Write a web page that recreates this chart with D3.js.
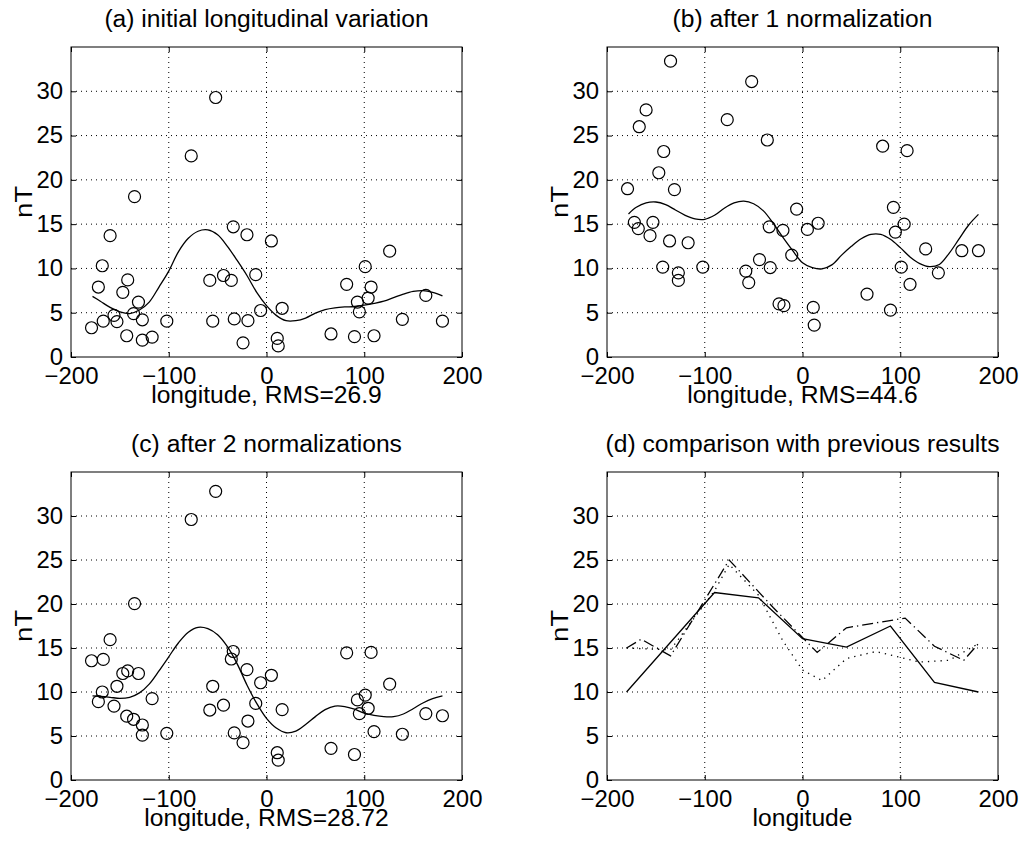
<!DOCTYPE html>
<html>
<head>
<meta charset="utf-8">
<script src="https://cdnjs.cloudflare.com/ajax/libs/d3/7.8.5/d3.min.js"></script>
<style>
  body { margin: 0; background: #fff; }
  svg { font-family: "Liberation Sans", Arial, Helvetica, sans-serif; }
</style>
</head>
<body>
<div id="chart"></div>
<script>
var svgWidth = 1019;
var svgHeight = 843;

// station longitudes, shared by panels (a)-(c)
var stationLon = [-179, -172, -168, -167, -160, -156, -153, -147, -143, -142, -136, -135,
  -131, -127, -127, -117, -102, -77, -58, -55, -52, -44, -36, -34, -33, -24, -20, -19,
  -11, -6, 5, 11, 12, 16, 66, 82, 90, 93, 95, 101, 104, 107, 110, 126, 139, 163, 180];

// station values (nT) for each panel
var valuesA = [3.3, 7.9, 10.3, 4.05, 13.7, 4.7, 4.0, 7.3, 2.4, 8.7, 4.9, 18.1, 6.2, 4.2,
  1.9, 2.25, 4.05, 22.7, 8.65, 4.05, 29.3, 9.2, 8.65, 14.7, 4.3, 1.6, 13.8, 4.1, 9.3, 5.25,
  13.1, 2.1, 1.25, 5.5, 2.6, 8.2, 2.3, 6.2, 5.1, 10.2, 6.65, 7.9, 2.4, 11.95, 4.25, 6.95, 4.05];
var valuesB = [19.0, 15.2, 14.5, 26.0, 27.9, 13.7, 15.2, 20.8, 10.15, 23.2, 13.1, 33.4, 18.9,
  9.5, 8.65, 12.9, 10.15, 26.8, 9.7, 8.4, 31.1, 11.0, 24.5, 14.7, 10.1, 6.0, 14.3, 5.8, 11.5,
  16.7, 14.4, 5.6, 3.6, 15.1, 7.1, 23.8, 5.3, 16.9, 14.1, 10.15, 15.0, 23.3, 8.2, 12.2, 9.5,
  12.0, 12.0];
var valuesC = [13.55, 8.9, 10.0, 13.7, 15.95, 8.4, 10.65, 12.1, 7.25, 12.4, 6.9, 20.05, 12.1,
  6.25, 5.1, 9.25, 5.3, 29.6, 7.95, 10.65, 32.8, 8.5, 13.75, 14.6, 5.35, 4.25, 12.55, 6.7, 8.7,
  11.05, 11.9, 3.1, 2.25, 8.0, 3.6, 14.45, 2.9, 9.1, 7.55, 9.65, 8.15, 14.5, 5.5, 10.9, 5.2,
  7.55, 7.3];

var curveLon = [-178, -170, -160, -150, -140, -130, -120, -110, -100, -90, -80, -70, -60,
  -50, -40, -30, -20, -10, 0, 10, 20, 30, 40, 50, 60, 70, 80, 90, 100, 110, 120, 130, 140,
  150, 160, 170, 180];
var curveA = [6.85, 6.3, 5.6, 5.1, 4.9, 5.3, 6.2, 7.9, 9.7, 11.9, 13.4, 14.2, 14.35, 13.8,
  12.5, 10.9, 9.2, 7.3, 5.8, 4.7, 4.1, 4.1, 4.4, 4.95, 5.35, 5.55, 5.65, 5.7, 5.85, 6.05, 6.3,
  6.7, 7.1, 7.4, 7.5, 7.3, 6.9];
var curveB = [16.15, 16.9, 17.4, 17.5, 17.2, 16.6, 16.0, 15.6, 15.55, 16.0, 16.8, 17.4, 17.6,
  17.3, 16.5, 15.1, 13.5, 12.0, 10.65, 10.1, 9.95, 10.4, 11.5, 12.5, 13.35, 13.85, 13.85, 13.3,
  12.35, 11.3, 10.55, 10.2, 10.45, 11.7, 13.3, 14.9, 16.1];
var curveC = [9.55, 9.5, 9.4, 9.28, 9.4, 9.9, 10.9, 12.4, 14.0, 15.6, 16.8, 17.35, 17.2, 16.5,
  15.15, 13.2, 10.8, 8.7, 7.0, 5.9, 5.37, 5.55, 6.3, 7.2, 8.0, 8.4, 8.35, 8.05, 7.6, 7.35, 7.2,
  7.2, 7.5, 8.1, 8.75, 9.25, 9.55];

// panel (d): this result and previous results
var solidLon = [-180, -90, -45, 0, 45, 90, 135, 180];
var solidVal = [10.0, 21.3, 20.7, 16.05, 15.1, 17.5, 11.1, 10.0];
var dashDotLon = [-180, -165, -135, -75, -30, 15, 45, 105, 135, 165, 180];
var dashDotVal = [15.0, 16.0, 14.1, 25.0, 19.6, 14.5, 17.3, 18.4, 15.2, 13.6, 15.5];
var dottedLon = [-180, -135, -90, -75, -45, -20, 0, 20, 45, 75, 90, 120, 150, 180];
var dottedVal = [15.0, 14.8, 21.5, 24.5, 21.0, 15.8, 12.5, 11.3, 13.8, 14.6, 14.2, 13.4, 13.6, 15.5];

var xTicks = [-200, -100, 0, 100, 200];
var yTicks = [0, 5, 10, 15, 20, 25, 30];
var xGrid = [-100, 0, 100];
var yGrid = [5, 10, 15, 20, 25, 30];

var titles = ["(a) initial longitudinal variation", "(b) after 1 normalization",
  "(c) after 2 normalizations", "(d) comparison with previous results"];
var xLabels = ["longitude, RMS=26.9", "longitude, RMS=44.6", "longitude, RMS=28.72", "longitude"];

// layout of the four axes boxes
var plotWidth = 391;
var boxes = [
  { left: 71, top: 47, height: 310 },
  { left: 607, top: 47, height: 310 },
  { left: 71, top: 472, height: 308 },
  { left: 607, top: 472, height: 308 }
];

var svg = d3.select("#chart")
  .append("svg")
  .attr("width", svgWidth)
  .attr("height", svgHeight);

// the printed font runs a bit wide: stretch along the text direction
function stretchText(sel, k) {
  sel.each(function () {
    var len = this.getComputedTextLength();
    d3.select(this)
      .attr("textLength", len * k)
      .attr("lengthAdjust", "spacingAndGlyphs");
  });
}

function drawPanel(i) {
  var box = boxes[i];
  var height = box.height;

  var xScale = d3.scaleLinear().domain([-200, 200]).range([0, plotWidth]);
  var yScale = d3.scaleLinear().domain([0, 35]).range([height, 0]);

  var g = svg.append("g")
    .attr("transform", `translate(${box.left}, ${box.top})`);

  // dotted grid
  g.selectAll(".vgrid")
    .data(xGrid)
    .enter()
    .append("line")
    .attr("x1", d => xScale(d))
    .attr("x2", d => xScale(d))
    .attr("y1", 0)
    .attr("y2", height)
    .attr("stroke", "#000")
    .attr("stroke-width", 1)
    .attr("stroke-dasharray", "1,4");

  g.selectAll(".hgrid")
    .data(yGrid)
    .enter()
    .append("line")
    .attr("x1", 0)
    .attr("x2", plotWidth)
    .attr("y1", d => yScale(d))
    .attr("y2", d => yScale(d))
    .attr("stroke", "#000")
    .attr("stroke-width", 1)
    .attr("stroke-dasharray", "1,4");

  // axes, ticks pointing inward on all four sides
  var bottomAxis = g.append("g")
    .attr("transform", `translate(0, ${height})`)
    .call(d3.axisBottom(xScale).tickValues(xTicks).tickSizeInner(-5).tickSizeOuter(0).tickPadding(11));
  var leftAxis = g.append("g")
    .call(d3.axisLeft(yScale).tickValues(yTicks).tickSizeInner(-5).tickSizeOuter(0).tickPadding(8));
  g.append("g")
    .call(d3.axisTop(xScale).tickValues(xTicks).tickSizeInner(-5).tickSizeOuter(0).tickFormat(""));
  g.append("g")
    .attr("transform", `translate(${plotWidth}, 0)`)
    .call(d3.axisRight(yScale).tickValues(yTicks).tickSizeInner(-5).tickSizeOuter(0).tickFormat(""));

  g.selectAll(".domain").remove();
  g.selectAll(".tick line").attr("stroke", "#000");
  g.selectAll(".tick text")
    .attr("fill", "#000")
    .style("font-size", "23px");
  stretchText(bottomAxis.selectAll(".tick text"), 1.04);
  stretchText(leftAxis.selectAll(".tick text"), 1.04);

  // box
  g.append("rect")
    .attr("x", 0)
    .attr("y", 0)
    .attr("width", plotWidth)
    .attr("height", height)
    .attr("fill", "none")
    .attr("stroke", "#000")
    .attr("stroke-width", 1);

  var line = d3.line()
    .x(d => xScale(d[0]))
    .y(d => yScale(d[1]));

  if (i < 3) {
    var vals = [valuesA, valuesB, valuesC][i];
    var curve = [curveA, curveB, curveC][i];

    g.append("path")
      .datum(d3.zip(curveLon, curve))
      .attr("d", line.curve(d3.curveCatmullRom))
      .attr("fill", "none")
      .attr("stroke", "#000")
      .attr("stroke-width", 1.3);

    g.selectAll("circle")
      .data(d3.zip(stationLon, vals))
      .enter()
      .append("circle")
      .attr("cx", d => xScale(d[0]))
      .attr("cy", d => yScale(d[1]))
      .attr("r", 6)
      .attr("fill", "none")
      .attr("stroke", "#000")
      .attr("stroke-width", 1.2);
  } else {
    g.append("path")
      .datum(d3.zip(dottedLon, dottedVal))
      .attr("d", line)
      .attr("fill", "none")
      .attr("stroke", "#000")
      .attr("stroke-width", 1.3)
      .attr("stroke-dasharray", "1.3,5");

    g.append("path")
      .datum(d3.zip(dashDotLon, dashDotVal))
      .attr("d", line)
      .attr("fill", "none")
      .attr("stroke", "#000")
      .attr("stroke-width", 1.3)
      .attr("stroke-dasharray", "11,4,1.3,4");

    g.append("path")
      .datum(d3.zip(solidLon, solidVal))
      .attr("d", line)
      .attr("fill", "none")
      .attr("stroke", "#000")
      .attr("stroke-width", 1.3);
  }

  // title, x label, y label
  var title = g.append("text")
    .attr("x", plotWidth / 2)
    .attr("y", -20)
    .attr("text-anchor", "middle")
    .style("font-size", "23px")
    .text(titles[i]);
  stretchText(title, 1.07);

  var xLab = g.append("text")
    .attr("x", plotWidth / 2)
    .attr("y", height + 46)
    .attr("text-anchor", "middle")
    .style("font-size", "23px")
    .text(xLabels[i]);
  stretchText(xLab, 1.07);

  var yLab = g.append("text")
    .attr("transform", `translate(-39, ${height / 2}) rotate(-90)`)
    .attr("text-anchor", "middle")
    .style("font-size", "24px")
    .text("nT");
  stretchText(yLab, 1.15);
}

for (var i = 0; i < 4; i++) {
  drawPanel(i);
}
</script>
</body>
</html>
